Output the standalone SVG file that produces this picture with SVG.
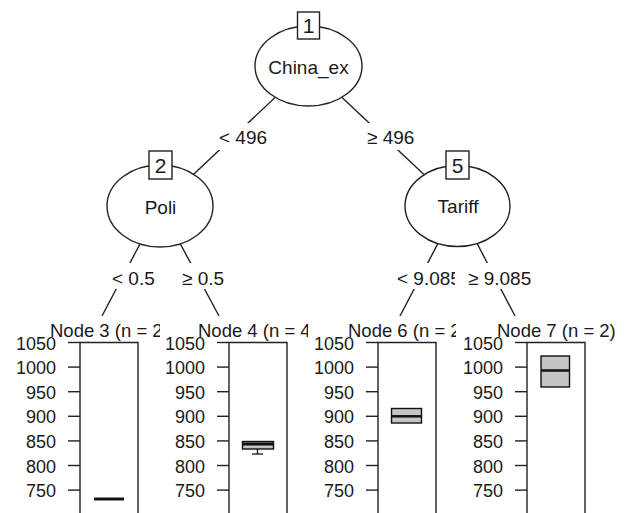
<svg xmlns="http://www.w3.org/2000/svg" width="624" height="513" viewBox="0 0 624 513">
<style>
text{font-family:"Liberation Sans",Arial,sans-serif;fill:#1a1a1a}
.lbl{font-size:19px}
.nid{font-size:21px;text-anchor:middle}
.nm{font-size:19px;text-anchor:middle}
.ax{font-size:18px;text-anchor:end}
.ttl{font-size:18.5px}
.ln{stroke:#222;stroke-width:1.4;fill:none}
.ell{fill:#fff;stroke:#222;stroke-width:1.4}
.idb{fill:#fff;stroke:#222;stroke-width:1.4}
.bg{fill:#fff}
.bx{fill:#c4c4c4;stroke:#111;stroke-width:1.4}
.med{stroke:#111;stroke-width:3}
.tk{stroke:#222;stroke-width:1.4}
</style>
<rect width="624" height="513" fill="#fff"/>
<g id="edges">
<line class="ln" x1="308.5" y1="66" x2="160" y2="206"/>
<line class="ln" x1="308.5" y1="66" x2="457.5" y2="206"/>
<line class="ln" x1="160" y1="206" x2="102" y2="316"/>
<line class="ln" x1="160" y1="206" x2="219" y2="316"/>
<line class="ln" x1="457.5" y1="206" x2="400" y2="316"/>
<line class="ln" x1="457.5" y1="206" x2="515" y2="316"/>
<rect class="bg" x="216" y="123" width="52" height="27"/>
<text class="lbl" x="219" y="144">&lt; 496</text>
<rect class="bg" x="364" y="123" width="52" height="27"/>
<text class="lbl" x="367" y="144">≥ 496</text>
<rect class="bg" x="108" y="263" width="48" height="26"/>
<text class="lbl" x="112" y="285">&lt; 0.5</text>
<rect class="bg" x="178" y="263" width="51" height="26"/>
<text class="lbl" x="182" y="285">≥ 0.5</text>
<rect class="bg" x="393" y="263" width="68" height="26"/>
<text class="lbl" x="397" y="285">&lt; 9.085</text>
<rect class="bg" x="455" y="263" width="84" height="26"/>
<text class="lbl" x="468" y="285">≥ 9.085</text>
</g>
<g id="node1">
<ellipse class="ell" cx="308.5" cy="66" rx="53.5" ry="40"/>
<rect class="idb" x="297.5" y="12" width="22" height="27"/>
<text class="nid" x="308.5" y="33">1</text>
<text class="nm" x="308.5" y="74">China_ex</text>
</g>
<g id="node2">
<ellipse class="ell" cx="160" cy="206" rx="53" ry="41"/>
<rect class="idb" x="149" y="151" width="23" height="28"/>
<text class="nid" x="160.5" y="173">2</text>
<text class="nm" x="160.5" y="214">Poli</text>
</g>
<g id="node5">
<ellipse class="ell" cx="457.5" cy="206" rx="52.5" ry="40.5"/>
<rect class="idb" x="446" y="151" width="23" height="28"/>
<text class="nid" x="457.5" y="173">5</text>
<text class="nm" x="458" y="213">Tariff</text>
</g>
<g id="node3">
<text class="ttl" x="50" y="337">Node 3 (n = 2)</text>
<path class="ln" d="M80 513V342.5H138V513"/>
<g class="tk">
<line x1="68" y1="342.5" x2="80" y2="342.5"/><line x1="68" y1="367.1" x2="80" y2="367.1"/><line x1="68" y1="391.7" x2="80" y2="391.7"/><line x1="68" y1="416.3" x2="80" y2="416.3"/><line x1="68" y1="440.9" x2="80" y2="440.9"/><line x1="68" y1="465.5" x2="80" y2="465.5"/><line x1="68" y1="490.1" x2="80" y2="490.1"/>
</g>
<text class="ax" x="56" y="349.5">1050</text><text class="ax" x="56" y="374">1000</text><text class="ax" x="56" y="398.7">950</text><text class="ax" x="56" y="423.3">900</text><text class="ax" x="56" y="447.9">850</text><text class="ax" x="56" y="472.5">800</text><text class="ax" x="56" y="497">750</text>
<line class="med" x1="94" y1="499" x2="124" y2="499"/>
</g>
<g id="node4">
<rect class="bg" x="160" y="318" width="149" height="195"/>
<text class="ttl" x="198" y="337">Node 4 (n = 4)</text>
<path class="ln" d="M229 513V342.5H287V513"/>
<g class="tk">
<line x1="217" y1="342.5" x2="229" y2="342.5"/><line x1="217" y1="367.1" x2="229" y2="367.1"/><line x1="217" y1="391.7" x2="229" y2="391.7"/><line x1="217" y1="416.3" x2="229" y2="416.3"/><line x1="217" y1="440.9" x2="229" y2="440.9"/><line x1="217" y1="465.5" x2="229" y2="465.5"/><line x1="217" y1="490.1" x2="229" y2="490.1"/>
</g>
<text class="ax" x="205" y="349.5">1050</text><text class="ax" x="205" y="374">1000</text><text class="ax" x="205" y="398.7">950</text><text class="ax" x="205" y="423.3">900</text><text class="ax" x="205" y="447.9">850</text><text class="ax" x="205" y="472.5">800</text><text class="ax" x="205" y="497">750</text>
<line class="tk" x1="257.5" y1="449" x2="257.5" y2="454"/>
<line class="tk" x1="252" y1="454" x2="263" y2="454"/>
<rect class="bx" x="242.5" y="441.5" width="31" height="7.5"/>
<line class="med" x1="242.5" y1="444" x2="273.5" y2="444"/>
</g>
<g id="node6">
<rect class="bg" x="308" y="318" width="149" height="195"/>
<text class="ttl" x="348" y="337">Node 6 (n = 2)</text>
<path class="ln" d="M378 513V342.5H436V513"/>
<g class="tk">
<line x1="366" y1="342.5" x2="378" y2="342.5"/><line x1="366" y1="367.1" x2="378" y2="367.1"/><line x1="366" y1="391.7" x2="378" y2="391.7"/><line x1="366" y1="416.3" x2="378" y2="416.3"/><line x1="366" y1="440.9" x2="378" y2="440.9"/><line x1="366" y1="465.5" x2="378" y2="465.5"/><line x1="366" y1="490.1" x2="378" y2="490.1"/>
</g>
<text class="ax" x="354" y="349.5">1050</text><text class="ax" x="354" y="374">1000</text><text class="ax" x="354" y="398.7">950</text><text class="ax" x="354" y="423.3">900</text><text class="ax" x="354" y="447.9">850</text><text class="ax" x="354" y="472.5">800</text><text class="ax" x="354" y="497">750</text>
<rect class="bx" x="391.5" y="408.5" width="30" height="14.5"/>
<line class="med" x1="391.5" y1="416.3" x2="421.5" y2="416.3" style="stroke-width:2.5"/>
</g>
<g id="node7">
<rect class="bg" x="456" y="318" width="168" height="195"/>
<text class="ttl" x="497" y="337">Node 7 (n = 2)</text>
<path class="ln" d="M527 513V342.5H585V513"/>
<g class="tk">
<line x1="515" y1="342.5" x2="527" y2="342.5"/><line x1="515" y1="367.1" x2="527" y2="367.1"/><line x1="515" y1="391.7" x2="527" y2="391.7"/><line x1="515" y1="416.3" x2="527" y2="416.3"/><line x1="515" y1="440.9" x2="527" y2="440.9"/><line x1="515" y1="465.5" x2="527" y2="465.5"/><line x1="515" y1="490.1" x2="527" y2="490.1"/>
</g>
<text class="ax" x="503" y="349.5">1050</text><text class="ax" x="503" y="374">1000</text><text class="ax" x="503" y="398.7">950</text><text class="ax" x="503" y="423.3">900</text><text class="ax" x="503" y="447.9">850</text><text class="ax" x="503" y="472.5">800</text><text class="ax" x="503" y="497">750</text>
<rect class="bx" x="541" y="356" width="28.5" height="31"/>
<line class="med" x1="541" y1="370.5" x2="569.5" y2="370.5" style="stroke-width:2.5"/>
</g>
</svg>
